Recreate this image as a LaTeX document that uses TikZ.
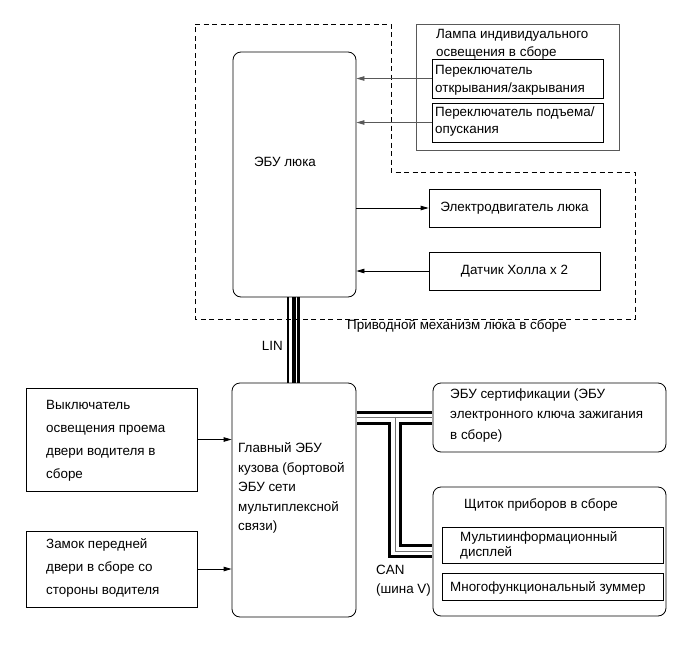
\documentclass[tikz,border=0pt]{standalone}
\usepackage{fontspec}
\setmainfont{Liberation Sans}
\usetikzlibrary{arrows.meta}
\newcommand{\fs}[1]{\fontsize{13.4}{#1}\selectfont}
\begin{document}
\begin{tikzpicture}[x=1pt,y=-1pt,
  every node/.style={font=\fs{15}},
  box/.style={draw, line width=0.8pt, inner sep=0pt},
  rbox/.style={box, rounded corners=8pt},
  gbox/.style={box, draw=black!65},
  txt/.style={anchor=west, align=left, inner sep=0pt},
  arr/.style={line width=0.8pt, -{Triangle[length=8pt,width=4.5pt]}},
  garr/.style={arr, draw=black!65, fill=black!65},
  cabA/.style={line width=14pt, draw=black},
  cabB/.style={line width=8pt, draw=white},
  cabC/.style={line width=0.9pt, draw=black!55},
  dashbox/.style={line width=0.8pt, dash pattern=on 5pt off 3.5pt}]
\useasboundingbox (0,0) rectangle (689,659);

% dashed assembly outline
\draw[dashbox] (195,24) -- (391,24) -- (391,172) -- (635,172) -- (635,319) -- (195,319) -- cycle;
\node[txt] (drivelbl) at (347,326) {Приводной механизм люка в сборе};

% sunroof ECU
\node[rbox, minimum width=123pt, minimum height=245pt] (ecu) at (294.5,174.5) {};
\node[inner sep=0pt] (ecutxt) at (285,162) {ЭБУ люка};

% lamp assembly
\node[gbox, minimum width=203pt, minimum height=126pt] (lamp) at (517.5,87) {};
\node[txt, font=\fs{18}] (lamptxt) at (436,44) {Лампа индивидуального\\освещения в сборе};
\node[box, fill=white, minimum width=171pt, minimum height=39pt] (sw1) at (517.5,78.5) {};
\node[txt, font=\fs{18}] (sw1txt) at (435,80) {Переключатель\\открывания/закрывания};
\node[box, fill=white, minimum width=171pt, minimum height=39pt] (sw2) at (517.5,122.5) {};
\node[txt, font=\fs{17}] (sw2txt) at (435,122) {Переключатель подъема/\\опускания};

% motor and hall sensor
\node[box, minimum width=171pt, minimum height=38pt] (motor) at (514.5,208) {Электродвигатель люка};
\node[box, minimum width=171pt, minimum height=38pt] (hall) at (514.5,271) {Датчик Холла x 2};

% main body ECU
\node[rbox, minimum width=124pt, minimum height=234pt] (main) at (294,500) {};
\node[txt, font=\fs{19.5}] (maintxt) at (238,488) {Главный ЭБУ\\кузова (бортовой\\ЭБУ сети\\мультиплексной\\связи)};

% left switches
\node[box, minimum width=171pt, minimum height=103pt] (door) at (111.5,439.5) {};
\node[txt, font=\fs{23}] (doortxt) at (46,440.5) {Выключатель\\освещения проема\\двери водителя в\\сборе};
\node[box, minimum width=171pt, minimum height=76pt] (lock) at (111.5,569) {};
\node[txt, font=\fs{23}] (locktxt) at (46,567.5) {Замок передней\\двери в сборе со\\стороны водителя};

% certification ECU
\node[rbox, minimum width=233pt, minimum height=69pt] (cert) at (549.5,417.5) {};
\node[txt, font=\fs{20.5}] (certtxt) at (450,415.5) {ЭБУ сертификации (ЭБУ\\электронного ключа зажигания\\в сборе)};

% combination meter
\node[rbox, minimum width=233pt, minimum height=129pt] (cluster) at (549.5,551.5) {};
\node[txt] (clustertxt) at (464,505) {Щиток приборов в сборе};
\node[box, minimum width=221pt, minimum height=36pt] (multi) at (552.5,545) {};
\node[txt, font=\fs{15}] (multitxt) at (460,545.5) {Мультиинформационный\\дисплей};
\node[box, minimum width=221pt, minimum height=27pt] (buzz) at (552.5,586.5) {};
\node[txt] (buzztxt) at (450,588) {Многофункциональный зуммер};

% signal arrows
\draw[garr] (sw1.west) -- (sw1.west -| ecu.east);
\draw[garr] (sw2.west) -- (sw2.west -| ecu.east);
\draw[arr] (motor.west -| ecu.east) -- (motor.west);
\draw[arr] (hall.west) -- (hall.west -| ecu.east);
\draw[arr] (door.east) -- (door.east -| main.west);
\draw[arr] (lock.east) -- (lock.east -| main.west);

% LIN bus
\draw[line width=1.6pt] ([xshift=-6.5pt]ecu.south) -- ([xshift=-6.5pt]ecu.south |- main.north);
\draw[line width=3.6pt] ([xshift=-0.5pt]ecu.south) -- ([xshift=-0.5pt]ecu.south |- main.north);
\draw[line width=2.6pt] ([xshift=4.2pt]ecu.south) -- ([xshift=4.2pt]ecu.south |- main.north);
\node[anchor=east, inner sep=0pt] (linlbl) at (283,346) {LIN};

% CAN bus
\coordinate (canj) at (395,417.5);
\coordinate (canc) at (395,551);
\foreach \st in {cabA,cabB,cabC}
  \draw[\st] ([xshift=0.4pt]main.east |- cert.west) -- ([xshift=-0.4pt]cert.west)
             (canj) -- (canc) -- ([xshift=-0.4pt]canc -| cluster.west);
\node[txt] (canlbl) at (376,570) {CAN};
\node[txt] (canlbl2) at (376,590) {(шина V)};
\end{tikzpicture}
\end{document}
